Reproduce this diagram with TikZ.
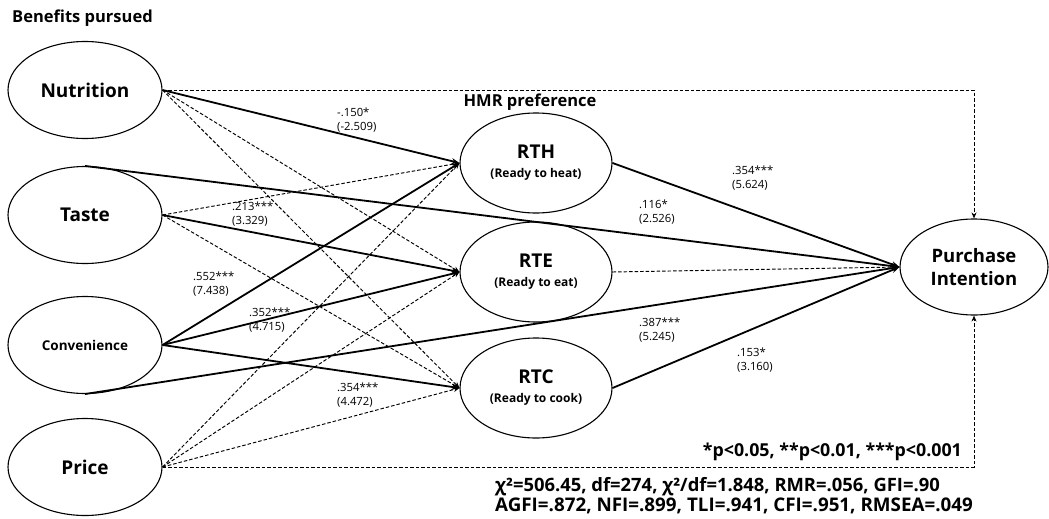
\documentclass[tikz,border=0pt]{standalone}
\usepackage{fontspec}
\setmainfont{Open Sans}
\usetikzlibrary{shapes.geometric,arrows.meta}
\begin{document}
\begin{tikzpicture}[x=1pt,y=-1pt,
  lat/.style={ellipse,draw,line width=1.1pt,inner sep=0pt,minimum width=154pt,minimum height=97pt,font=\bfseries\fontsize{19}{21}\selectfont},
  mid/.style={ellipse,draw,line width=1.1pt,inner sep=0pt,minimum width=152pt,minimum height=100pt,align=center,font=\bfseries},
  sig/.style={line width=1.8pt,-{Stealth[length=8pt,width=6pt]}},
  ns/.style={line width=0.95pt,dash pattern=on 3.5pt off 2pt,-{Stealth[length=6pt,width=5pt]}},
  coef/.style={font=\fontsize{11.3}{14}\selectfont,align=left,anchor=west,inner sep=0pt},
  ttl/.style={font=\bfseries\fontsize{16.5}{19}\selectfont,inner sep=0pt},
  stat/.style={font=\bfseries\fontsize{18.4}{20}\selectfont,inner sep=0pt}
]
\useasboundingbox (0,0) rectangle (1049,519);

% titles
\node[ttl,anchor=west] (t1) at (12,18) {Benefits pursued};
\node[ttl] (t2) at (530,102) {HMR preference};

% latent variables
\node[lat] (nut) at (85,90) {Nutrition};
\node[lat] (tas) at (85,215) {Taste};
\node[lat,font=\bfseries\fontsize{13.5}{16}\selectfont] (con) at (85,345) {Convenience};
\node[lat] (pri) at (85,467) {Price};

\node[mid] (rth) at (536,163) {{\fontsize{19}{21}\selectfont RTH}\\[7pt]{\fontsize{12}{13}\selectfont (Ready to heat)}};
\node[mid] (rte) at (536,272) {{\fontsize{19}{21}\selectfont RTE}\\[7pt]{\fontsize{12}{13}\selectfont (Ready to eat)}};
\node[mid] (rtc) at (536,388) {{\fontsize{19}{21}\selectfont RTC}\\[7pt]{\fontsize{12}{13}\selectfont (Ready to cook)}};

\node[ellipse,draw,line width=1.1pt,inner sep=0pt,minimum width=148pt,minimum height=96pt,align=center,font=\bfseries\fontsize{18.5}{23}\selectfont] (pi) at (974,267) {Purchase\\Intention};

% paths from benefits to HMR
\draw[sig] (nut.east) -- (rth.west);
\draw[ns]  (nut.east) -- (rte.west);
\draw[ns]  (nut.east) -- (rtc.west);
\draw[ns]  (tas.east) -- (rth.west);
\draw[sig] (tas.east) -- (rte.west);
\draw[ns]  (tas.east) -- (rtc.west);
\draw[sig] (con.east) -- (rth.west);
\draw[sig] (con.east) -- (rte.west);
\draw[sig] (con.east) -- (rtc.west);
\draw[ns]  (pri.east) -- (rth.west);
\draw[ns]  (pri.east) -- (rte.west);
\draw[ns]  (pri.east) -- (rtc.west);

% paths to purchase intention
\draw[sig] (rth.east) -- (pi.west);
\draw[ns]  (rte.east) -- (pi.west);
\draw[sig] (rtc.east) -- (pi.west);
\draw[sig] (tas.north) -- (pi.west);
\draw[sig] (con.south) -- (pi.west);
\draw[ns]  (nut.east) -- (nut.east -| pi.north) -- (pi.north);
\draw[ns]  (pri.east) -- (pri.east -| pi.south) -- (pi.south);

% coefficients
\node[coef] (c1) at (337,120) {-.150*\\(-2.509)};
\node[coef] (c2) at (232,214) {.213***\\(3.329)};
\node[coef] (c3) at (193,284) {.552***\\(7.438)};
\node[coef] (c4) at (249,320) {.352***\\(4.715)};
\node[coef] (c5) at (337,395) {.354***\\(4.472)};
\node[coef] (c6) at (732,178) {.354***\\(5.624)};
\node[coef] (c7) at (639,212) {.116*\\(2.526)};
\node[coef] (c8) at (639,330) {.387***\\(5.245)};
\node[coef] (c9) at (737,360) {.153*\\(3.160)};

% notes
\node[stat,anchor=east,font=\bfseries\fontsize{17.8}{20}\selectfont] (n1) at (962,452) {*p<0.05, **p<0.01, ***p<0.001};
\node[stat,anchor=west] (n2) at (495,487) {χ²=506.45, df=274, χ²/df=1.848, RMR=.056, GFI=.90};
\node[stat,anchor=west,font=\bfseries\fontsize{18.8}{20}\selectfont] (n3) at (495,506) {AGFI=.872, NFI=.899, TLI=.941, CFI=.951, RMSEA=.049};
\end{tikzpicture}
\end{document}
